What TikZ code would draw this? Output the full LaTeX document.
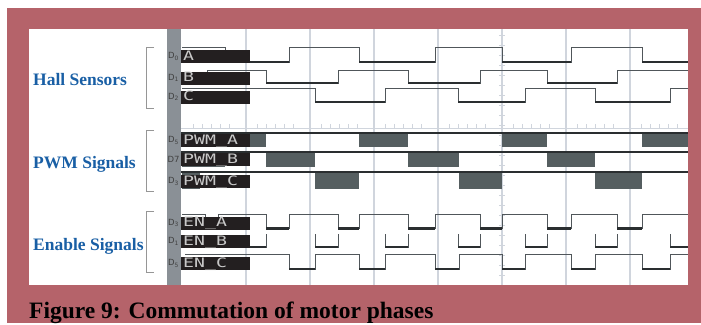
\documentclass[tikz,border=0pt]{standalone}
\usepackage{fontspec}
\setmainfont{Liberation Serif}
\newfontfamily\lcdfont{DejaVu Sans Mono}
\newfontfamily\idfont{DejaVu Sans}
\definecolor{framered}{RGB}{181,99,106}
\definecolor{bargray}{RGB}{138,144,150}
\definecolor{gridc}{RGB}{208,213,221}
\definecolor{wavehi}{RGB}{80,86,90}
\definecolor{wavelo}{RGB}{42,46,48}
\definecolor{pwmfill}{RGB}{85,94,96}
\definecolor{boxblack}{RGB}{35,31,32}
\definecolor{lcdtext}{RGB}{200,200,200}
\definecolor{grpblue}{RGB}{25,95,165}
\definecolor{brkgray}{RGB}{150,150,150}
\tikzset{
  gridline/.style={draw=gridc, line width=1.2pt},
  tickline/.style={draw=gridc, line width=0.8pt},
  hiwave/.style={draw=wavehi, line width=1pt},
  lowave/.style={draw=wavelo, line width=2.2pt},
  pwmline/.style={draw=wavelo, line width=1.2pt},
  pwmblock/.style={fill=pwmfill},
  lbox/.style={fill=boxblack, anchor=north west, inner xsep=2pt, inner ysep=0.75pt,
    text width=65pt, align=left, text height=9.5pt, text depth=2pt, text=lcdtext,
    font=\lcdfont\fontsize{13}{13}\selectfont},
  rowid/.style={anchor=center, inner sep=0pt, text=black!75,
    font=\idfont\fontsize{8.5}{8.5}\selectfont},
  grplabel/.style={anchor=base west, inner sep=0pt, text=grpblue,
    font=\bfseries\fontsize{17.5}{17.5}\selectfont},
  bracket/.style={draw=brkgray, line width=0.9pt},
}
\newcommand{\lcd}[1]{\scalebox{1.4}[1]{#1}}
\begin{document}
\begin{tikzpicture}[x=1pt,y=-1pt]
\useasboundingbox (0,0) rectangle (701,324);
\fill[white] (0,0) rectangle (701,324);
\fill[framered] (7,8) rectangle (701,323);
\fill[white] (29,29) rectangle (688,285);
\fill[bargray] (167,29) rectangle (181,285);
% grid
\foreach \x in {246,310,374,438,502,566,630}
  \draw[gridline] (\x,29) -- (\x,285);
% ruler
\draw[tickline] (181,128) -- (688,128);
\foreach \g in {182,246,310,374,438,502,566,630}
  \foreach \o in {11,20,29,38,47}
    \draw[tickline] (\g+\o,124) -- (\g+\o,128);
% axis ticks
\foreach \y in {35,45,...,280}
  \draw[tickline] (499,\y) -- (505,\y);

% ---- Hall sensors
\draw[hiwave] (182,47.5) -- (225,47.5) -- (225,62) -- (289,62) -- (289,47.5) -- (359,47.5) -- (359,62) -- (435,62) -- (435,47.5) -- (502,47.5) -- (502,62) -- (571,62) -- (571,47.5) -- (642,47.5) -- (642,62) -- (688,62);
\foreach \a/\b in {225/289,359/435,502/571,642/688}
  \draw[lowave] (\a,62) -- (\b,62);
\draw[hiwave] (182,83) -- (207,83) -- (207,70) -- (266,70) -- (266,83) -- (338,83) -- (338,70) -- (408,70) -- (408,83) -- (480,83) -- (480,70) -- (547,70) -- (547,83) -- (617,83) -- (617,70) -- (688,70);
\foreach \a/\b in {182/207,266/338,408/480,547/617}
  \draw[lowave] (\a,83) -- (\b,83);
\draw[hiwave] (182,88.5) -- (315,88.5) -- (315,102) -- (385,102) -- (385,88.5) -- (458,88.5) -- (458,102) -- (525,102) -- (525,88.5) -- (595,88.5) -- (595,102) -- (670,102) -- (670,88.5) -- (688,88.5);
\foreach \a/\b in {315/385,458/525,595/670}
  \draw[lowave] (\a,102) -- (\b,102);

% ---- PWM
\foreach \a/\b in {222/266,359/408,502/547,642/688}
  \fill[pwmblock] (\a,133) rectangle (\b,147);
\foreach \a/\b in {182/225,266/315,408/459,547/595}
  \fill[pwmblock] (\a,152) rectangle (\b,167);
\foreach \a/\b in {182/200,315/359,459/502,595/642}
  \fill[pwmblock] (\a,172) rectangle (\b,189);
\foreach \y in {133,152,172}
  \draw[pwmline] (181,\y) -- (688,\y);

% ---- Enable
\draw[hiwave] (182,214) -- (205,214) -- (205,228.5) -- (218,228.5) -- (218,214) -- (266,214) -- (266,228.5) -- (289,228.5) -- (289,214) -- (338,214) -- (338,228.5) -- (359,228.5) -- (359,214) -- (408,214) -- (408,228.5) -- (435,228.5) -- (435,214) -- (480,214) -- (480,228.5) -- (502,228.5) -- (502,214) -- (547,214) -- (547,228.5) -- (571,228.5) -- (571,214) -- (617,214) -- (617,228.5) -- (642,228.5) -- (642,214) -- (688,214);
\foreach \a/\b in {205/218,266/289,338/359,408/435,480/502,547/571,617/642}
  \draw[lowave] (\a,228.5) -- (\b,228.5);
\draw[hiwave] (182,247) -- (266,247) -- (266,234);
\foreach \a/\b in {315/338,385/408,458/480,525/547,595/617}
  \draw[hiwave] (\a,234) -- (\a,247) -- (\b,247) -- (\b,234);
\draw[hiwave] (670,234) -- (670,247) -- (688,247);
\foreach \a/\b in {182/266,315/338,385/408,458/480,525/547,595/617,670/688}
  \draw[lowave] (\a,247) -- (\b,247);
\draw[hiwave] (185,254) -- (289,254) -- (289,269) -- (315,269) -- (315,254) -- (359,254) -- (359,269) -- (385,269) -- (385,254) -- (435,254) -- (435,269) -- (459,269) -- (459,254) -- (502,254) -- (502,269) -- (525,269) -- (525,254) -- (571,254) -- (571,269) -- (595,269) -- (595,254) -- (642,254) -- (642,269) -- (670,269) -- (670,254) -- (688,254);
\foreach \a/\b in {289/315,359/385,435/459,502/525,571/595,642/670}
  \draw[lowave] (\a,269) -- (\b,269);

% ---- label boxes
\node[lbox] (hA) at (181,50) {\lcd{A}};
\node[lbox] (hB) at (181,71.5) {\lcd{B}};
\node[lbox] (hC) at (181,90.5) {\lcd{C}};
\node[lbox] (pA) at (181,134) {\lcd{PWM\_A}};
\node[lbox] (pB) at (181,153) {\lcd{PWM\_B}};
\node[lbox] (pC) at (181,175) {\lcd{PWM\_C}};
\node[lbox] (eA) at (181,216.5) {\lcd{EN\_A}};
\node[lbox] (eB) at (181,235) {\lcd{EN\_B}};
\node[lbox] (eC) at (181,257) {\lcd{EN\_C}};

% ---- row ids
\node[rowid] (iA) at (173.5,56.5) {D\textsubscript{0}};
\node[rowid] (iB) at (173.5,78) {D\textsubscript{1}};
\node[rowid] (iC) at (173.5,97) {D\textsubscript{2}};
\node[rowid] (ipA) at (173.5,140.5) {D\textsubscript{5}};
\node[rowid] (ipB) at (173.5,159.5) {D7};
\node[rowid] (ipC) at (173.5,181.5) {D\textsubscript{3}};
\node[rowid] (ieA) at (173.5,223) {D\textsubscript{3}};
\node[rowid] (ieB) at (173.5,241.5) {D\textsubscript{1}};
\node[rowid] (ieC) at (173.5,263.5) {D\textsubscript{5}};

% ---- brackets
\draw[bracket] (154,47) -- (146,47) -- (146,108) -- (154,108);
\draw[bracket] (154,130) -- (146,130) -- (146,191) -- (154,191);
\draw[bracket] (154,211) -- (146,211) -- (146,272) -- (154,272);

% ---- group labels
\node[grplabel] (ghall) at (33,85) {Hall Sensors};
\node[grplabel] (gpwm) at (33,168) {PWM Signals};
\node[grplabel] (gen) at (33,250) {Enable Signals};

% ---- caption
\node[anchor=base west, inner sep=0pt, font=\bfseries\fontsize{23.5}{23.5}\selectfont] (cap) at (29,318) {Figure 9: Commutation of motor phases};
\end{tikzpicture}
\end{document}
